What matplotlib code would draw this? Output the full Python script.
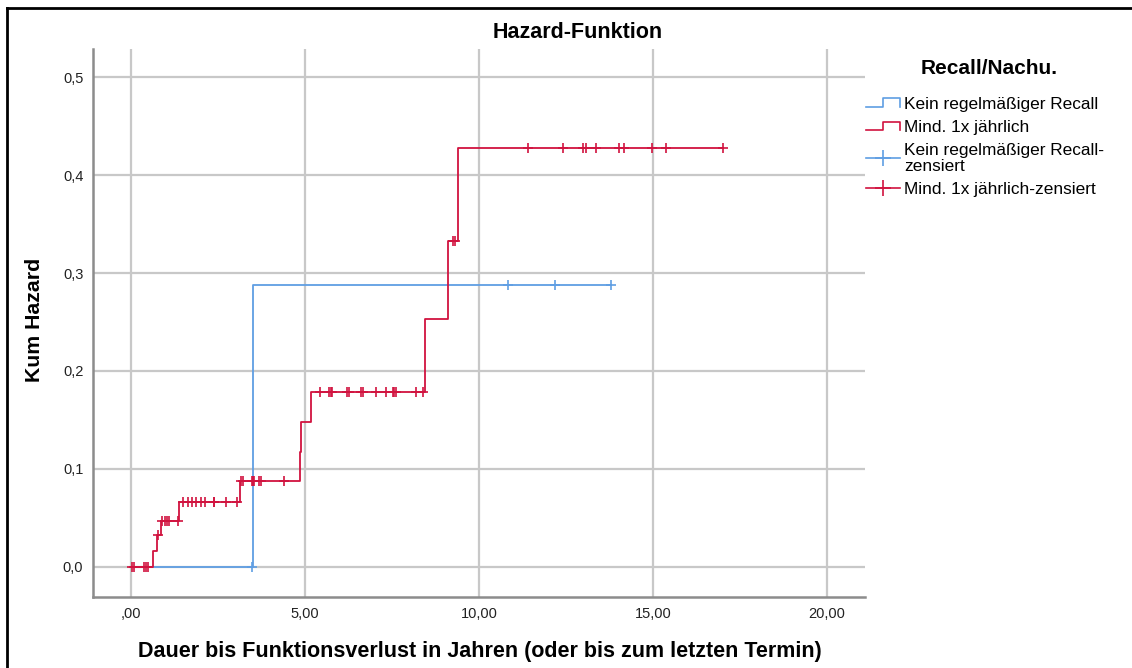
import numpy as np
import matplotlib
matplotlib.use("Agg")
from matplotlib import pyplot as plt
from matplotlib.lines import Line2D
from matplotlib.legend_handler import HandlerBase, HandlerLine2D

plt.rcParams['font.family'] = ['Liberation Sans', 'DejaVu Sans']

# --- data ---
groups = ["Kein regelmäßiger Recall", "Mind. 1x jährlich"]
legend_title = "Recall/Nachu."

# group 1: Kein regelmäßiger Recall
blue_event_times = [3.51]
blue_hazard = [0.0, 0.288]
blue_end = 13.78
blue_censored = [3.48, 10.82, 12.18, 13.78]

# group 2: Mind. 1x jährlich
red_event_times = [0.62, 0.74, 0.86, 1.38, 3.12, 4.86, 4.90, 5.17, 8.45, 9.10, 9.40]
red_hazard = [0.0, 0.016, 0.032, 0.047, 0.066, 0.088, 0.117, 0.148, 0.178,
              0.253, 0.333, 0.428]
red_end = 17.02
red_censored = [0.03, 0.10, 0.38, 0.43, 0.48,
                0.78,
                0.90, 0.97, 1.05, 1.10, 1.34,
                1.50, 1.63, 1.74, 1.87, 2.01, 2.13, 2.38, 2.40, 2.72, 3.05,
                3.15, 3.21, 3.48, 3.51, 3.54, 3.69, 3.74, 4.40,
                5.43, 5.70, 5.76, 5.79, 6.22, 6.26, 6.60, 6.66, 7.04, 7.33,
                7.52, 7.57, 7.61, 8.18, 8.38,
                9.24, 9.31,
                11.40, 12.40, 13.00, 13.06, 13.36, 14.02, 14.17, 14.96, 15.37, 17.02]

x_ticks = [0, 5, 10, 15, 20]
x_tick_labels = [",00", "5,00", "10,00", "15,00", "20,00"]
y_ticks = [0.0, 0.1, 0.2, 0.3, 0.4, 0.5]
y_tick_labels = ["0,0", "0,1", "0,2", "0,3", "0,4", "0,5"]

BLUE = "#5f9ee3"
RED = "#d1133f"
W, H = 1132, 668


def step_xy(event_times, hazard, end):
    xs = np.array([0.0] + list(event_times) + [end])
    ys = np.array(list(hazard) + [hazard[-1]])
    return xs, ys


def level_at(event_times, hazard, times):
    idx = np.searchsorted(np.array(event_times), np.array(times), side="right")
    return np.array(hazard)[idx]


class StepHandler(HandlerBase):
    # legend icon shaped like a small step: _|‾|
    def create_artists(self, legend, orig_handle, xdescent, ydescent,
                       width, height, fontsize, trans):
        x0 = -xdescent
        y0 = -ydescent
        lo = y0 + height * 0.15
        hi = y0 + height * 0.85
        xs = [x0, x0 + width * 0.5, x0 + width * 0.5, x0 + width, x0 + width]
        ys = [lo, lo, hi, hi, lo]
        line = Line2D(xs, ys, color=orig_handle.get_color(), lw=1.2)
        line.set_transform(trans)
        return [line]


fig = plt.figure(figsize=(W / 100, H / 100), dpi=100)
ax = fig.add_axes([93 / W, 1 - 597 / H, (865 - 93) / W, (597 - 49) / H])

bx, by = step_xy(blue_event_times, blue_hazard, blue_end)
rx, ry = step_xy(red_event_times, red_hazard, red_end)

ax.step(bx, by, where="post", color=BLUE, lw=1.3, zorder=3)
ax.plot(blue_censored, level_at(blue_event_times, blue_hazard, blue_censored),
        ls="none", marker="+", ms=7.5, mew=1.2, color=BLUE, zorder=3)
ax.step(rx, ry, where="post", color=RED, lw=1.3, zorder=4)
ax.plot(red_censored, level_at(red_event_times, red_hazard, red_censored),
        ls="none", marker="+", ms=7.5, mew=1.2, color=RED, zorder=4)

ax.set_xlim(-1.09, 21.09)
ax.set_ylim(-0.031, 0.529)
ax.set_xticks(x_ticks)
ax.set_xticklabels(x_tick_labels)
ax.set_yticks(y_ticks)
ax.set_yticklabels(y_tick_labels)
ax.tick_params(length=0, labelsize=10.5, colors="#222222")
ax.tick_params(axis="y", pad=7)
ax.tick_params(axis="x", pad=7)
ax.grid(True, color="#c8c8c8", lw=1.6)
ax.set_axisbelow(True)
for s in ["top", "right"]:
    ax.spines[s].set_visible(False)
for s in ["left", "bottom"]:
    ax.spines[s].set_color("#8c8c8c")
    ax.spines[s].set_linewidth(1.8)

fig.text(578 / W, 1 - 32 / H, "Hazard-Funktion", fontsize=15.5, fontweight="bold",
         ha="center", va="center")
fig.text(480 / W, 1 - 651 / H,
         "Dauer bis Funktionsverlust in Jahren (oder bis zum letzten Termin)",
         fontsize=15.5, fontweight="bold", ha="center", va="center")
fig.text(35 / W, 1 - 320 / H, "Kum Hazard", fontsize=15.3, fontweight="bold",
         ha="center", va="center", rotation=90)
fig.text(989 / W, 1 - 69 / H, legend_title, fontsize=15, fontweight="bold",
         ha="center", va="center")

h_blue = Line2D([], [], color=BLUE)
h_red = Line2D([], [], color=RED)
h_blue_c = Line2D([], [], color=BLUE, marker="+", ms=11, mew=1.2, lw=1.2)
h_red_c = Line2D([], [], color=RED, marker="+", ms=11, mew=1.2, lw=1.2)
leg = fig.legend([h_blue, h_red, h_blue_c, h_red_c],
                 [groups[0], groups[1], groups[0] + "-\nzensiert", groups[1] + "-zensiert"],
                 handler_map={h_blue: StepHandler(), h_red: StepHandler(),
                              h_blue_c: HandlerLine2D(numpoints=1),
                              h_red_c: HandlerLine2D(numpoints=1)},
                 loc="upper left", bbox_to_anchor=(857 / W, 1 - 88 / H),
                 frameon=False, fontsize=12.4,
                 borderpad=0, handlelength=2.0, handletextpad=0.25,
                 labelspacing=0.47)
for t in leg.get_texts():
    t.set_linespacing(1.1)

# frame lines of the exported image (left and top only)
fig.add_artist(Line2D([7 / W, 7 / W], [0, 1 - 8 / H], color="black", lw=2,
                      transform=fig.transFigure))
fig.add_artist(Line2D([7 / W, 1], [1 - 8 / H, 1 - 8 / H], color="black", lw=2,
                      transform=fig.transFigure))

fig.savefig("out.png", dpi=100)
